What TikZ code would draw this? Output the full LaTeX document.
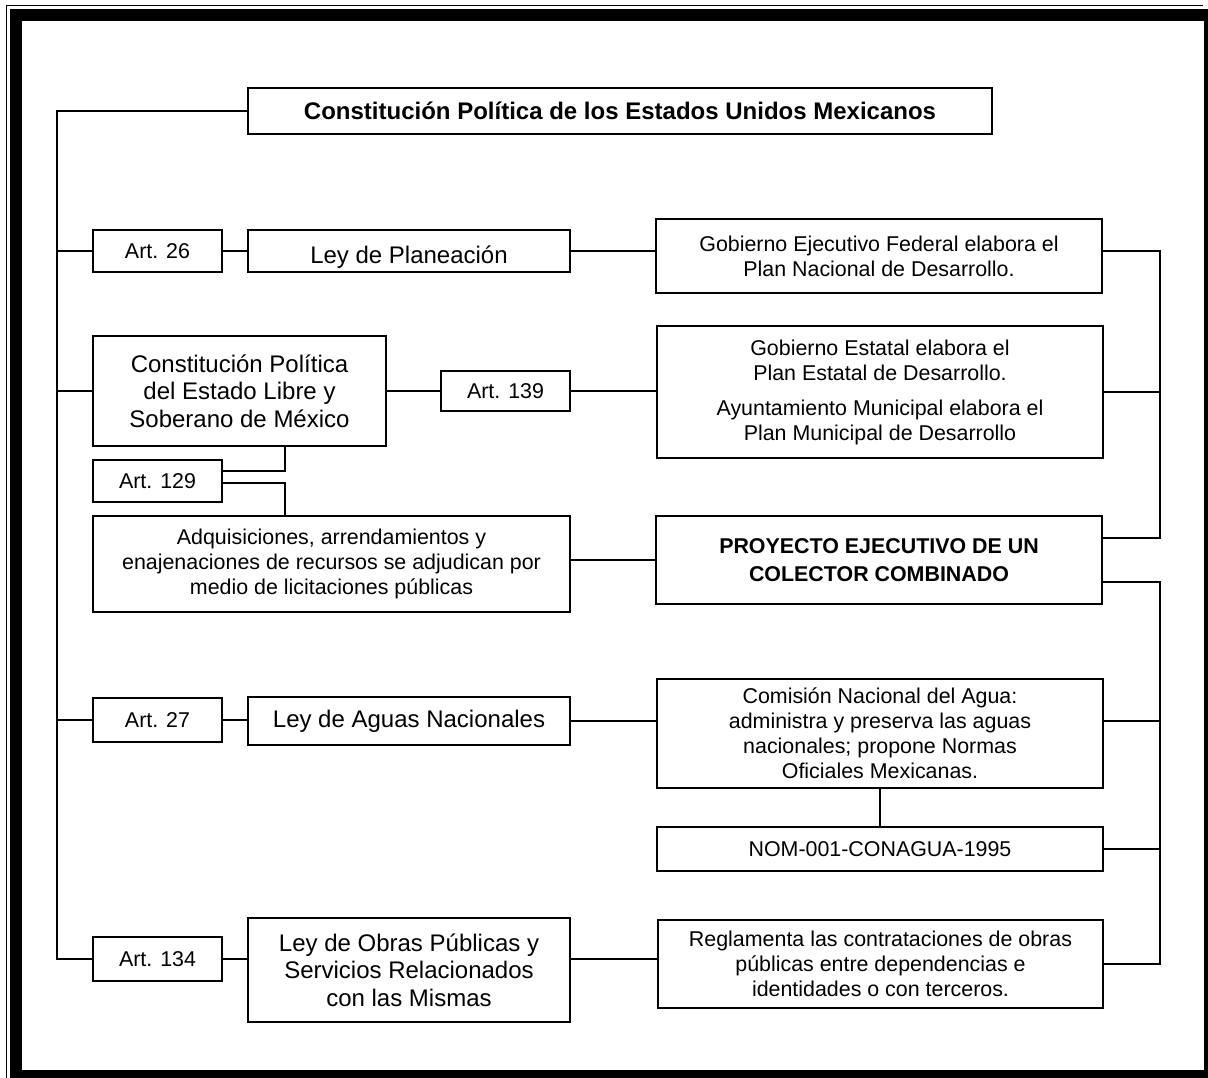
\documentclass[tikz,border=0pt]{standalone}
\usepackage{fontspec}
\setmainfont{Liberation Sans}
\newcommand\smtxt{\fontsize{21.4}{25}\selectfont}
\newcommand\lgtxt{\fontsize{24}{27.5}\selectfont}
\begin{document}
\begin{tikzpicture}[x=1pt,y=-1pt,
  box/.style={draw, line width=2.8pt, inner sep=0pt, align=center, font=\smtxt},
  bigbox/.style={box, font=\lgtxt},
  wire/.style={line width=2.5pt}]
\useasboundingbox (0,0) rectangle (1208,1078);
\fill[white] (0,0) rectangle (1208,1078);

% page frame with shadow band
\fill[black] (10,9) rectangle (22,1078);
\fill[black] (10,9) rectangle (1208,21);
\fill[black] (1204,9) rectangle (1208,1078);
\fill[black] (10,1070) rectangle (1208,1078);
\draw[line width=1.5pt] (6.5,1078) -- (6.5,5.5) -- (1203,5.5);

% boxes
\node[box, font=\fontsize{24}{27}\selectfont\bfseries, minimum width=744, minimum height=46] (title) at (620,111) {Constitución Política de los Estados Unidos Mexicanos};

\node[box, minimum width=129, minimum height=42] (a26) at (157.5,251) {Art. 26};
\node[bigbox, minimum width=322, minimum height=42] (lplan) at (409,251) {};
\node[font=\lgtxt, anchor=base] at (409,264) {Ley de Planeación};
\node[box, minimum width=446, minimum height=74] (fed) at (879,256) {Gobierno Ejecutivo Federal elabora el\\Plan Nacional de Desarrollo.};

\node[bigbox, minimum width=293, minimum height=110] (cest) at (239.5,391) {Constitución Política\\del Estado Libre y\\Soberano de México};
\node[box, minimum width=129, minimum height=40] (a139) at (505.5,391) {Art. 139};
\node[box, minimum width=446, minimum height=132] (est) at (880,392) {Gobierno Estatal elabora el\\Plan Estatal de Desarrollo.\\[10pt]Ayuntamiento Municipal elabora el\\Plan Municipal de Desarrollo};

\node[box, minimum width=129, minimum height=42] (a129) at (157.5,481) {Art. 129};
\node[box, minimum width=477, minimum height=96] (adq) at (331.5,564) {Adquisiciones, arrendamientos y\\enajenaciones de recursos se adjudican por\\medio de licitaciones públicas};
\node[box, font=\fontsize{21.4}{28}\selectfont\bfseries, minimum width=446, minimum height=88] (proy) at (879,560) {PROYECTO EJECUTIVO DE UN\\COLECTOR COMBINADO};

\node[box, minimum width=129, minimum height=44] (a27) at (157.5,720) {Art. 27};
\node[bigbox, minimum width=322, minimum height=48] (lagua) at (409,721) {Ley de Aguas Nacionales};
\node[box, minimum width=446, minimum height=109] (com) at (880,733.5) {Comisión Nacional del Agua:\\administra y preserva las aguas\\nacionales; propone Normas\\Oficiales Mexicanas.};
\node[box, minimum width=446, minimum height=44] (nom) at (880,849) {NOM-001-CONAGUA-1995};

\node[box, minimum width=129, minimum height=44] (a134) at (157.5,959) {Art. 134};
\node[bigbox, minimum width=322, minimum height=104] (lobras) at (409,970) {Ley de Obras Públicas y\\Servicios Relacionados\\con las Mismas};
\node[box, minimum width=445, minimum height=88] (regl) at (880.5,964) {Reglamenta las contrataciones de obras\\públicas entre dependencias e\\identidades o con terceros.};

% bus coordinates
\coordinate (lbbot) at (57,959);
\coordinate (rbU) at (1160,538);
\coordinate (rbL) at (1160,582);
\coordinate (j129) at (285,0);

% left bus
\draw[wire] (title.west) -| (lbbot) -- (a134.west);
\draw[wire] (a26.west) -- (a26.west -| lbbot);
\draw[wire] (cest.west) -- (cest.west -| lbbot);
\draw[wire] (a27.west) -- (a27.west -| lbbot);

% row connectors
\draw[wire] (a26.east) -- (lplan.west);
\draw[wire] (lplan.east) -- (lplan.east -| fed.west);
\draw[wire] (cest.east) -- (a139.west);
\draw[wire] (a139.east) -- (a139.east -| est.west);
\draw[wire] (proy.west -| adq.east) -- (proy.west);
\draw[wire] (a27.east) -- (a27.east -| lagua.west);
\draw[wire] (lagua.east) -- (lagua.east -| com.west);
\draw[wire] (com.south) -- (nom.north);
\draw[wire] (a134.east) -- (a134.east -| lobras.west);
\draw[wire] (a134.east -| lobras.east) -- (a134.east -| regl.west);

% Art. 129 links
\draw[wire] (cest.south -| j129) |- ([yshift=10pt]a129.east);
\draw[wire] ([yshift=-2pt]a129.east) -| (adq.north -| j129);

% right buses
\draw[wire] (lplan.east -| fed.east) -| (rbU) -- (rbU -| proy.east);
\draw[wire] (est.east) -- (est.east -| rbU);
\draw[wire] (rbL -| proy.east) -- (rbL) |- (regl.east);
\draw[wire] (lagua.east -| com.east) -- (lagua.east -| rbL);
\draw[wire] (nom.east) -- (nom.east -| rbL);
\end{tikzpicture}
\end{document}
